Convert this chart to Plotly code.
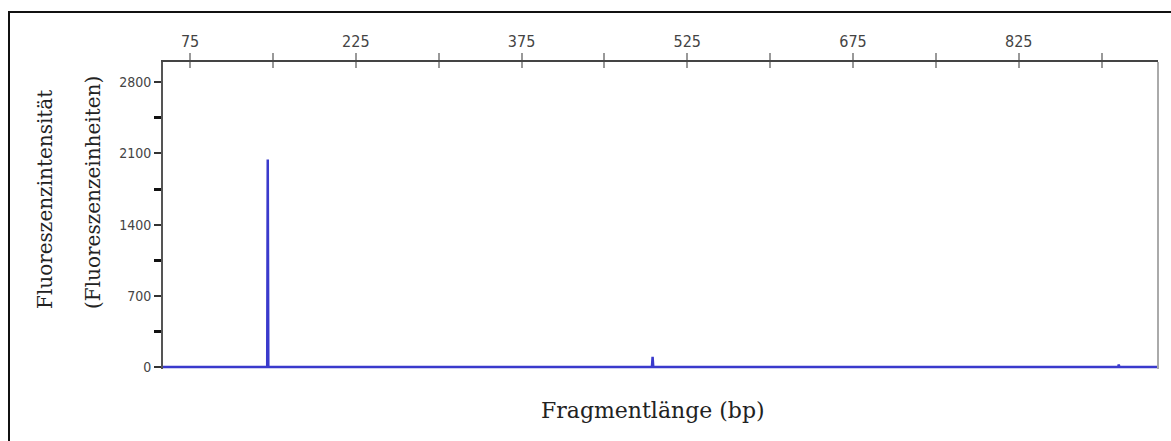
import plotly.graph_objects as go

# Fragment sizes (bp) and fluorescence intensities
fragment_bp = [50.5, 144.8, 145.3, 145.8, 493.0, 493.6, 494.2, 915.0, 915.5, 916.0, 951.0]
intensity = [0, 0, 2040, 0, 0, 100, 0, 0, 25, 0, 0]

x_ticks = [75, 225, 375, 525, 675, 825]
x_minor = [150, 300, 450, 600, 750, 900]
y_ticks = [0, 700, 1400, 2100, 2800]
y_minor = [350, 1050, 1750, 2450]

W, H = 1171, 441
L, R, T, B = 163, 13, 62, 72
pw, ph = W - L - R, H - T - B

def px(x):
    return (x - L) / pw

def py(y):
    return (H - B - y) / ph

cond = "DejaVu Sans Condensed, Liberation Sans Narrow, Liberation Sans"

fig = go.Figure()
fig.add_trace(go.Scatter(x=fragment_bp, y=intensity, mode="lines",
                         line=dict(color="#3a3acc", width=2.5),
                         hoverinfo="skip", showlegend=False))
fig.add_trace(go.Scatter(x=[], y=[], xaxis="x2", showlegend=False))

fig.update_layout(
    width=W, height=H,
    margin=dict(l=L, r=R, t=T, b=B),
    paper_bgcolor="white", plot_bgcolor="white",
    xaxis=dict(side="top", range=[50.5, 951], tickvals=x_ticks,
               ticks="outside", ticklen=7, tickwidth=1.5, tickcolor="#999",
               showline=True, linecolor="#444", linewidth=2,
               showgrid=False, zeroline=False,
               tickfont=dict(family=cond, size=16, color="#444"),
               ticklabelstandoff=0,
               minor=dict(tickvals=x_minor, ticks="outside", ticklen=7,
                          tickwidth=1.5, tickcolor="#999")),
    xaxis2=dict(overlaying="x", side="top", range=[50.5, 951],
                tickvals=x_ticks + x_minor, ticks="inside", ticklen=6,
                tickwidth=1.5, tickcolor="#999", showticklabels=False,
                showgrid=False, zeroline=False, showline=False),
    yaxis=dict(range=[-20, 3000], tickvals=y_ticks,
               ticks="outside", ticklen=7, tickwidth=1.5, tickcolor="#333",
               showline=True, linecolor="#555", linewidth=2,
               showgrid=False, zeroline=False,
               tickfont=dict(family=cond, size=14, color="#444"),
               minor=dict(tickvals=y_minor, ticks="outside", ticklen=7,
                          tickwidth=3, tickcolor="#111")),
    font=dict(family="Liberation Sans"),
    shapes=[
        dict(type="rect", xref="paper", yref="paper",
             x0=px(9), x1=px(1200), y0=py(480), y1=py(12),
             line=dict(color="#111", width=2), fillcolor="rgba(0,0,0,0)"),
        dict(type="line", xref="paper", yref="paper",
             x0=1, x1=1, y0=0, y1=1, line=dict(color="#aaa", width=2)),
    ],
    annotations=[
        dict(text="Fluoreszenzintensität", xref="paper", yref="paper",
             x=px(45), y=py(200), textangle=-90, showarrow=False,
             xanchor="center", yanchor="middle",
             font=dict(family="DejaVu Serif", size=20, color="#222")),
        dict(text="(Fluoreszenzeinheiten)", xref="paper", yref="paper",
             x=px(93), y=py(193), textangle=-90, showarrow=False,
             xanchor="center", yanchor="middle",
             font=dict(family="DejaVu Serif", size=20, color="#222")),
        dict(text="Fragmentlänge (bp)", xref="paper", yref="paper",
             x=px(653), y=py(410), showarrow=False,
             xanchor="center", yanchor="middle",
             font=dict(family="DejaVu Serif", size=22, color="#222")),
    ],
)

fig.write_html("out.html")
